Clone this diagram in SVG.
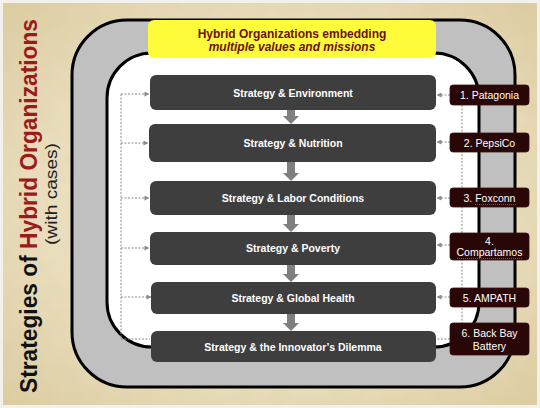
<svg xmlns="http://www.w3.org/2000/svg" width="540" height="408" viewBox="0 0 540 408">
  <defs>
    <radialGradient id="parch" cx="50%" cy="50%" r="72%">
      <stop offset="0" stop-color="#f3ebd3"/>
      <stop offset="0.6" stop-color="#ebdfbf"/>
      <stop offset="1" stop-color="#dccca0"/>
    </radialGradient>
    <filter id="grain" x="0" y="0" width="100%" height="100%">
      <feTurbulence type="fractalNoise" baseFrequency="0.06" numOctaves="3" seed="4" result="n"/>
      <feColorMatrix in="n" type="matrix" values="0 0 0 0 0.62  0 0 0 0 0.52  0 0 0 0 0.30  0 0 0 0.18 0" result="c"/>
      <feComposite in="c" in2="SourceGraphic" operator="in"/>
    </filter>
    <marker id="ah" viewBox="0 0 6 6" refX="5.5" refY="3" markerWidth="5" markerHeight="5" orient="auto" markerUnits="userSpaceOnUse">
      <path d="M0,0 L6,3 L0,6 z" fill="#8a8a8a"/>
    </marker>
    <style>
      .strat { fill: #3e3e3e; }
      .stext { font-family: "Liberation Sans", Arial, sans-serif; font-weight: bold; font-size: 10.5px; fill: #ffffff; text-anchor: middle; }
      .case { fill: #2a0707; stroke: #3a1010; stroke-width: 0.8; }
      .ctext { font-family: "Liberation Sans", Arial, sans-serif; font-size: 10.5px; fill: #ffffff; text-anchor: middle; }
      .dash { fill: none; stroke: #8a8a8a; stroke-width: 1; stroke-dasharray: 2 1.5; }
      .down { fill: #7f7f7f; }
      .spell { fill: none; stroke: #d03030; stroke-width: 1; stroke-dasharray: 1 1; }
    </style>
  </defs>

  <!-- background -->
  <rect x="0" y="0" width="540" height="408" fill="#f3f1ec"/>
  <rect x="3" y="3" width="534" height="402" fill="url(#parch)"/>
  <rect x="3" y="3" width="534" height="402" fill="url(#parch)" filter="url(#grain)"/>

  <!-- title -->
  <g id="title">
    <text transform="rotate(-90)" x="-393" y="37" font-family="'Liberation Sans', Arial, sans-serif" font-weight="bold" font-size="24" textLength="374" lengthAdjust="spacingAndGlyphs" fill="#111111">Strategies of <tspan fill="#9b1a1a">Hybrid Organizations</tspan></text>
    <text transform="rotate(-90)" x="-245" y="57" font-family="'Liberation Sans', Arial, sans-serif" font-size="16" textLength="102" lengthAdjust="spacingAndGlyphs" fill="#222222">(with cases)</text>
  </g>

  <!-- band -->
  <g id="band">
    <rect x="72" y="20" width="443" height="367" rx="55" ry="55" fill="#c0c0c0" stroke="#000" stroke-width="3"/>
    <rect x="107" y="53" width="372" height="294" rx="45" ry="45" fill="#ffffff" stroke="#000" stroke-width="3"/>
  </g>

  <!-- header -->
  <g id="header">
    <rect x="148" y="20" width="288" height="38" rx="6" ry="6" fill="#fdfb3a"/>
    <text x="292" y="38" font-family="'Liberation Sans', Arial, sans-serif" font-weight="bold" font-size="12" fill="#6b1010" text-anchor="middle">Hybrid Organizations embedding</text>
    <text x="292" y="51" font-family="'Liberation Sans', Arial, sans-serif" font-weight="bold" font-style="italic" font-size="12" fill="#6b1010" text-anchor="middle">multiple values and missions</text>
  </g>

  <!-- connectors -->
  <g id="connectors">
    <path class="dash" d="M121,94 V339 H150"/>
    <path class="dash" d="M121,94 H149" marker-end="url(#ah)"/>
    <path class="dash" d="M121,143 H148" marker-end="url(#ah)"/>
    <path class="dash" d="M121,198 H149" marker-end="url(#ah)"/>
    <path class="dash" d="M121,248 H149" marker-end="url(#ah)"/>
    <path class="dash" d="M121,297 H151" marker-end="url(#ah)"/>
    <path class="dash" d="M462,105 V323"/>
    <path class="dash" d="M450,95 H437" marker-end="url(#ah)"/>
    <path class="dash" d="M450,142 H437" marker-end="url(#ah)"/>
    <path class="dash" d="M450,198 H437" marker-end="url(#ah)"/>
    <path class="dash" d="M450,245 H437" marker-end="url(#ah)"/>
    <path class="dash" d="M450,297 H437" marker-end="url(#ah)"/>
    <path class="dash" d="M450,339 H436"/>
    <path class="down" d="M287,110 H295 V116 H299 L291,124 L283,116 H287 Z"/>
    <path class="down" d="M287,162 H295 V173 H299 L291,181 L283,173 H287 Z"/>
    <path class="down" d="M287,215 H295 V224 H299 L291,232 L283,224 H287 Z"/>
    <path class="down" d="M287,265 H295 V274 H299 L291,282 L283,274 H287 Z"/>
    <path class="down" d="M287,314 H295 V323 H299 L291,331 L283,323 H287 Z"/>
  </g>

  <!-- strategy nodes -->
  <g id="s1"><rect class="strat" x="150" y="75" width="286" height="35" rx="6"/><text class="stext" x="293" y="97">Strategy &amp; Environment</text></g>
  <g id="s2"><rect class="strat" x="149" y="124" width="287" height="38" rx="6"/><text class="stext" x="293" y="146.5">Strategy &amp; Nutrition</text></g>
  <g id="s3"><rect class="strat" x="150" y="181" width="286" height="34" rx="6"/><text class="stext" x="293" y="202">Strategy &amp; Labor Conditions</text></g>
  <g id="s4"><rect class="strat" x="150" y="232" width="286" height="33" rx="6"/><text class="stext" x="293" y="252">Strategy &amp; Poverty</text></g>
  <g id="s5"><rect class="strat" x="151" y="282" width="285" height="32" rx="6"/><text class="stext" x="293" y="302">Strategy &amp; Global Health</text></g>
  <g id="s6"><rect class="strat" x="151" y="331" width="285" height="31" rx="6"/><text class="stext" x="293" y="351">Strategy &amp; the Innovator’s Dilemma</text></g>

  <!-- case nodes -->
  <g id="c1"><rect class="case" x="450" y="85" width="79" height="20" rx="3"/><text class="ctext" x="489.5" y="99">1. Patagonia</text></g>
  <g id="c2"><rect class="case" x="450" y="133" width="79" height="19" rx="3"/><text class="ctext" x="489.5" y="146.5">2. PepsiCo</text></g>
  <g id="c3"><rect class="case" x="450" y="188" width="79" height="19" rx="3"/><text class="ctext" x="489.5" y="201.5">3. Foxconn</text><path class="spell" d="M475,204.5 H517"/></g>
  <g id="c4"><rect class="case" x="450" y="233" width="79" height="27" rx="3"/><text class="ctext" x="489.5" y="244.5">4.</text><text class="ctext" x="489.5" y="256">Compartamos</text><path class="spell" d="M457,258.5 H522"/></g>
  <g id="c5"><rect class="case" x="450" y="288" width="79" height="19" rx="3"/><text class="ctext" x="489.5" y="301.5">5. AMPATH</text></g>
  <g id="c6"><rect class="case" x="450" y="323" width="79" height="32" rx="3"/><text class="ctext" x="489.5" y="337">6. Back Bay</text><text class="ctext" x="489.5" y="350">Battery</text></g>
</svg>
